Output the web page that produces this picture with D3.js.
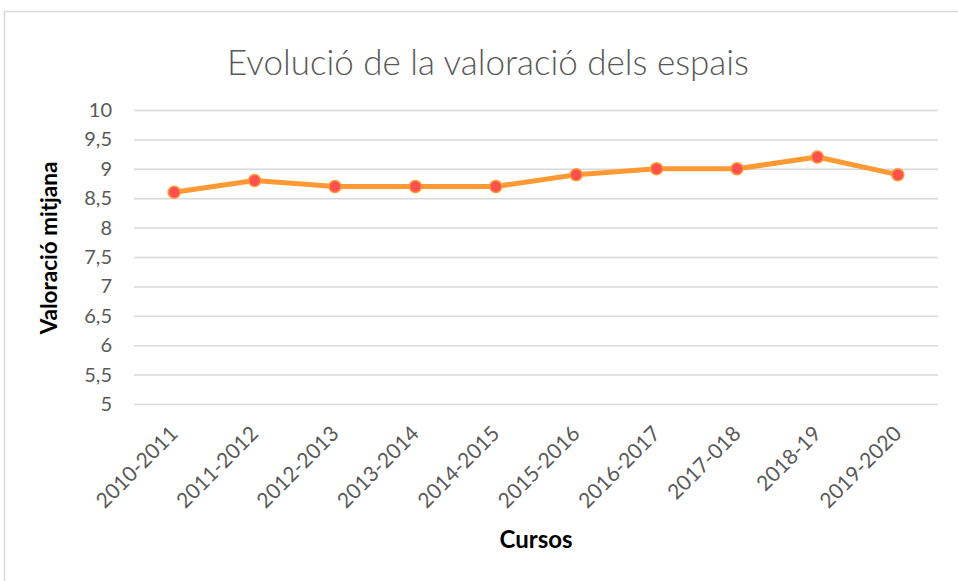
<!DOCTYPE html>
<html>
<head>
<meta charset="utf-8">
<script src="https://cdn.jsdelivr.net/npm/d3@7"></script>
<style>
  body { margin: 0; background: #fff; }
  text { font-family: Lato, "Open Sans", sans-serif; }
</style>
</head>
<body>
<div id="chart"></div>
<script>
// Chart data
const cursos = ["2010-2011", "2011-2012", "2012-2013", "2013-2014", "2014-2015",
    "2015-2016", "2016-2017", "2017-018", "2018-19", "2019-2020"];
const valoracio = [8.6, 8.8, 8.7, 8.7, 8.7, 8.9, 9.0, 9.0, 9.2, 8.9];
const yTicks = [5, 5.5, 6, 6.5, 7, 7.5, 8, 8.5, 9, 9.5, 10];

const W = 958, H = 581;
const plot = { left: 134, right: 938, top: 110, bottom: 404 };

const svg = d3.select("#chart").append("svg")
    .attr("width", W)
    .attr("height", H);

// chart area border
svg.append("rect")
    .attr("x", 4.5).attr("y", 11.5)
    .attr("width", 1000).attr("height", 700)
    .attr("fill", "none")
    .attr("stroke", "#d9d9d9")
    .attr("stroke-width", 1.5);

const x = d3.scaleBand()
    .domain(cursos)
    .range([plot.left, plot.right]);

const y = d3.scaleLinear()
    .domain([5, 10])
    .range([plot.bottom, plot.top]);

// gridlines + y labels
const yAxis = svg.append("g")
    .attr("transform", `translate(${plot.left},0)`)
    .call(d3.axisLeft(y)
        .tickValues(yTicks)
        .tickSize(-(plot.right - plot.left))
        .tickPadding(22)
        .tickFormat(d => String(d).replace(".", ",")));
yAxis.select(".domain").remove();
yAxis.selectAll(".tick line")
    .attr("stroke", "#d9d9d9")
    .attr("stroke-width", 1.5);
yAxis.selectAll(".tick text")
    .attr("fill", "#595959")
    .style("font-size", "20px");

// x labels
const xAxis = svg.append("g")
    .attr("transform", `translate(0,${plot.bottom})`)
    .call(d3.axisBottom(x).tickSize(0).tickPadding(0));
xAxis.select(".domain").remove();
xAxis.selectAll(".tick text")
    .attr("fill", "#595959")
    .style("font-size", "21px")
    .style("text-anchor", "end")
    .attr("dy", 0)
    .attr("transform", "translate(5,31) rotate(-45)");

// line
const line = d3.line()
    .x((d, i) => x(cursos[i]) + x.bandwidth() / 2)
    .y(d => y(d));

svg.append("path")
    .datum(valoracio)
    .attr("d", line)
    .attr("fill", "none")
    .attr("stroke", "#ff9933")
    .attr("stroke-width", 5)
    .attr("stroke-linejoin", "round");

svg.selectAll(".dot")
    .data(valoracio)
    .enter().append("circle")
    .attr("class", "dot")
    .attr("cx", (d, i) => x(cursos[i]) + x.bandwidth() / 2)
    .attr("cy", d => y(d))
    .attr("r", 6)
    .attr("fill", "#ff5050")
    .attr("stroke", "#ff9933")
    .attr("stroke-width", 1.5);

// titles
svg.append("text")
    .attr("x", 488).attr("y", 75)
    .attr("text-anchor", "middle")
    .attr("fill", "#595959")
    .style("font-size", "35px")
    .style("font-weight", 300)
    .text("Evolució de la valoració dels espais");

svg.append("text")
    .attr("transform", "translate(57,248) rotate(-90)")
    .attr("text-anchor", "middle")
    .attr("fill", "#000")
    .style("font-size", "22.5px")
    .style("font-weight", 700)
    .text("Valoració mitjana");

svg.append("text")
    .attr("x", 536).attr("y", 548)
    .attr("text-anchor", "middle")
    .attr("fill", "#000")
    .style("font-size", "24px")
    .style("font-weight", 700)
    .text("Cursos");
</script>
</body>
</html>
